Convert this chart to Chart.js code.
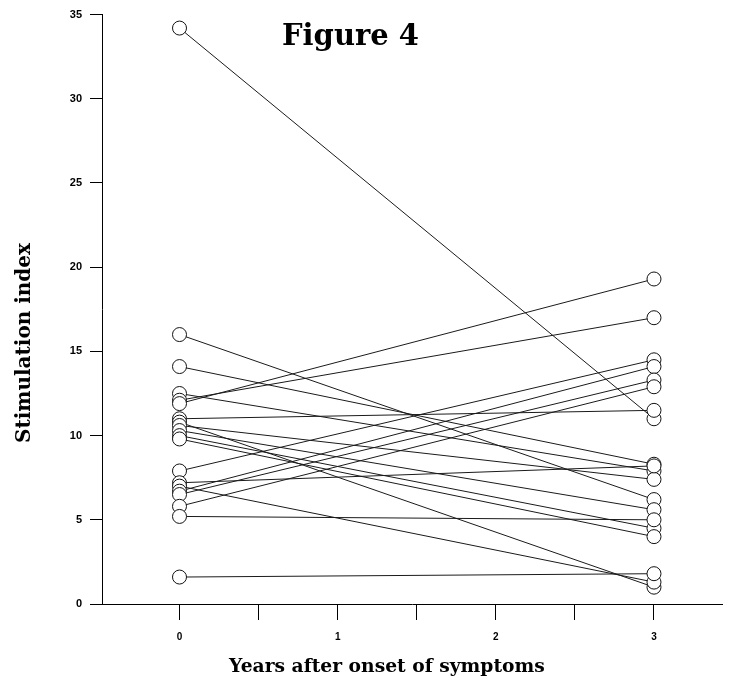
<!DOCTYPE html>
<html lang="en">
<head>
    <meta charset="UTF-8">
    <title>Figure 4</title>
    <script src="https://cdn.jsdelivr.net/npm/chart.js"></script>
    <style>
        body { margin: 0; background: #fff; }
        .wrap { position: relative; width: 730px; height: 688px; }
        .txt {
            position: absolute;
            font-family: "DejaVu Serif", serif;
            font-weight: bold;
            color: #000;
            white-space: nowrap;
            line-height: 1;
        }
        #fig-title { left: 282px; top: 21px; font-size: 29px; }
        #x-title { left: 229px; top: 656px; font-size: 18.7px; }
        #y-title {
            left: 23px; top: 343px; font-size: 20px;
            transform: translate(-50%, -50%) rotate(-90deg);
        }
    </style>
</head>
<body>
    <div class="wrap">
        <canvas id="chart" width="730" height="688"></canvas>
        <div class="txt" id="fig-title">Figure 4</div>
        <div class="txt" id="x-title">Years after onset of symptoms</div>
        <div class="txt" id="y-title">Stimulation index</div>
    </div>

    <script>
        // Stimulation index per patient, at onset and 3 years later
        const years = [0, 3];
        const year0 = [34.2, 16.0, 14.1, 12.5, 12.1, 11.9, 11.0, 10.8, 10.6, 10.3,
                       10.0, 9.8, 7.9, 7.2, 7.0, 6.7, 6.5, 5.8, 5.2, 1.6];
        const year3 = [11.0, 6.2, 8.3, 7.9, 17.0, 19.3, 11.5, 1.0, 7.4, 5.6,
                       4.5, 4.0, 14.5, 8.2, 1.3, 14.1, 13.3, 12.9, 5.0, 1.8];
        const xTicks = [0, 0.5, 1, 1.5, 2, 2.5, 3];
        const yTicks = [0, 5, 10, 15, 20, 25, 30, 35];

        const datasets = year0.map((v, i) => ({
            data: [{x: years[0], y: v}, {x: years[1], y: year3[i]}],
            showLine: true,
            borderColor: '#1a1a1a',
            borderWidth: 1,
            pointRadius: 0,
            order: 2
        }));

        // all end points drawn on top of the lines
        const points = [];
        year0.forEach((v, i) => {
            points.push({x: years[0], y: v});
            points.push({x: years[1], y: year3[i]});
        });
        datasets.push({
            data: points,
            showLine: false,
            pointRadius: 7,
            pointBackgroundColor: '#fff',
            pointBorderColor: '#111',
            pointBorderWidth: 1,
            order: 1
        });

        new Chart(document.getElementById('chart'), {
            type: 'scatter',
            data: { datasets: datasets },
            options: {
                responsive: false,
                animation: false,
                layout: { padding: { top: 12, right: 0, left: 0, bottom: 0 } },
                plugins: { legend: { display: false }, tooltip: { enabled: false } },
                scales: {
                    x: {
                        type: 'linear',
                        min: -0.49,
                        max: 3.43,
                        afterBuildTicks: s => { s.ticks = xTicks.map(v => ({value: v})); },
                        afterFit: s => { s.height = 84; },
                        ticks: {
                            autoSkip: false,
                            maxRotation: 0,
                            padding: 11,
                            color: '#000',
                            font: { family: 'Liberation Sans', weight: 'bold', size: 10 },
                            callback: v => Number.isInteger(v) ? String(v) : ''
                        },
                        grid: { drawOnChartArea: false, tickLength: 16, color: '#000' },
                        border: { color: '#000', width: 1 }
                    },
                    y: {
                        type: 'linear',
                        min: 0,
                        max: 35,
                        afterBuildTicks: s => { s.ticks = yTicks.map(v => ({value: v})); },
                        afterFit: s => { s.width = 102; },
                        ticks: {
                            padding: 8,
                            color: '#000',
                            font: { family: 'Liberation Sans', weight: 'bold', size: 11 }
                        },
                        grid: { drawOnChartArea: false, tickLength: 12, color: '#000' },
                        border: { color: '#000', width: 1 }
                    }
                }
            }
        });
    </script>
</body>
</html>
